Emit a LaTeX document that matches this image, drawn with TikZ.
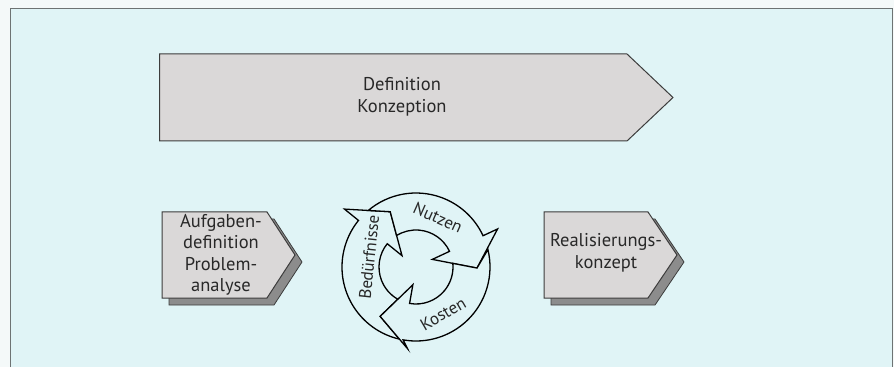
\documentclass[tikz,border=0pt]{standalone}
\usepackage{fontspec}
\setmainfont{PT Sans}
\definecolor{outer}{RGB}{244,249,249}
\definecolor{bg}{RGB}{224,244,246}
\definecolor{framec}{RGB}{110,115,115}
\definecolor{boxfill}{RGB}{218,216,216}
\definecolor{boxline}{RGB}{60,60,60}
\definecolor{shadowgray}{RGB}{140,140,140}
\definecolor{txt}{RGB}{40,40,40}
\begin{document}
\begin{tikzpicture}[x=1pt,y=1pt,
  box/.style={draw=boxline, line width=1pt, fill=boxfill, line join=miter},
  shadowbox/.style={draw=boxline, line width=0.8pt, fill=shadowgray},
  lbl/.style={font=\fontsize{18.5}{21.5}\selectfont, text=txt, align=center},
  ring/.style={draw=black, line width=1.3pt, fill=bg, line join=miter},
  ringlbl/.style={font=\fontsize{17}{20}\selectfont, text=txt, inner sep=0pt}]
\useasboundingbox (0,0) rectangle (894,367);
\fill[outer] (0,0) rectangle (894,367);
\fill[bg] (10,0) rectangle (892,359);
\draw[framec, line width=0.8pt] (10,0) -- (10,359) -- (892,359) -- (892,0);

% big arrow
\draw[box] (159.5,226) -- (159.5,313) -- (627,313) -- (673,269.5) -- (627,226) -- cycle;
\node[lbl] (def) at (402,270) {Definition\\Konzeption};

% left box
\draw[shadowbox, shift={(7,-7)}] (162,69) -- (162,155) -- (267,155) -- (295,112) -- (267,69) -- cycle;
\draw[box] (162,69) -- (162,155) -- (267,155) -- (295,112) -- (267,69) -- cycle;
\node[lbl] (aufg) at (221,112) {Aufgaben-\\definition\\Problem-\\analyse};

% right box
\draw[shadowbox, shift={(7,-7)}] (544,69) -- (544,155) -- (648,155) -- (677,112) -- (648,69) -- cycle;
\draw[box] (544,69) -- (544,155) -- (648,155) -- (677,112) -- (648,69) -- cycle;
\node[lbl] (real) at (606,114) {Realisierungs-\\konzept};

% cycle
\begin{scope}[shift={(416,100)}]
\path[ring] (234:61) -- (257.08:74) arc[start angle=257.08, end angle=141, radius=74]
  -- (141:92) -- (115:61) -- (141:18) -- (141:37)
  arc[start angle=141, end angle=240.63, radius=37] -- cycle;
\path[ring] (115:61) -- (130.17:74) arc[start angle=130.17, end angle=25, radius=74]
  -- (25:90) -- (-1:61) -- (25:18) -- (25:37)
  arc[start angle=25, end angle=121.63, radius=37] -- cycle;
\path[ring] (-1:61) -- (13.6:74) arc[start angle=13.6, end angle=-100, radius=74]
  -- (-96:82) -- (-126:61) -- (-100:18) -- (-100:37)
  arc[start angle=-100, end angle=5.63, radius=37] -- cycle;
\node[ringlbl, rotate=-24] (nutzen) at (66:54) {Nutzen};
\node[ringlbl, rotate=30] (kosten) at (-60:54) {Kosten};
\node[ringlbl, rotate=84] (bed) at (168:48) {Bedürfnisse};
\end{scope}
\end{tikzpicture}
\end{document}
